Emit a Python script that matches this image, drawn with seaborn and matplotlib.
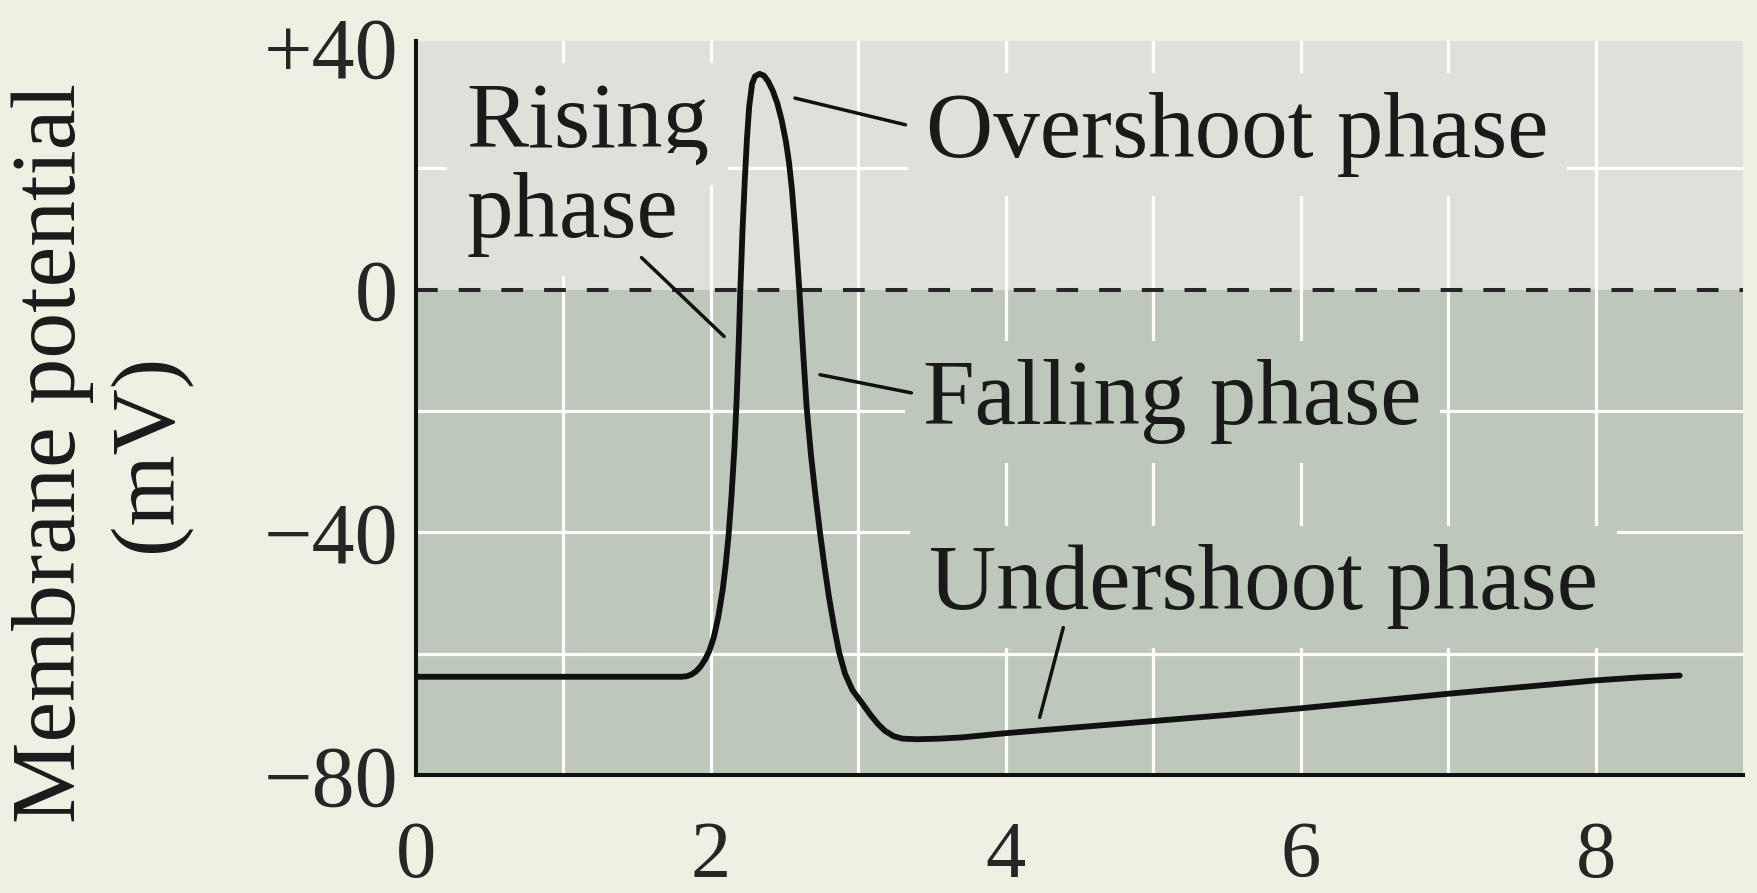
import numpy as np
import pandas as pd
import seaborn as sns
import matplotlib.pyplot as plt

### DATA ###
time_ms = [0.0, 0.5, 1.0, 1.5, 1.80, 1.84, 1.87, 1.90, 1.93, 1.96, 1.99, 2.02, 2.05,
           2.08, 2.10, 2.12, 2.14, 2.16, 2.175, 2.19, 2.20, 2.215, 2.23, 2.245, 2.26,
           2.28, 2.30, 2.33, 2.36, 2.39, 2.42, 2.45, 2.48, 2.51, 2.53, 2.55, 2.575,
           2.60, 2.625, 2.65, 2.68, 2.71, 2.74, 2.77, 2.80, 2.835, 2.87, 2.91, 2.96,
           3.03, 3.08, 3.13, 3.18, 3.24, 3.30, 3.40, 3.55, 3.70, 4.0, 4.5, 5.0, 5.5,
           6.0, 6.5, 7.0, 7.5, 8.0, 8.3, 8.57]
potential_mv = [-63.8, -63.8, -63.8, -63.8, -63.8, -63.7, -63.4, -62.9, -62.1, -61.0,
                -59.5, -57.3, -54.0, -49.5, -45.5, -40.5, -34.0, -26.0, -18.0, -8.0,
                0.0, 10.0, 18.0, 25.0, 30.2, 34.0, 35.2, 35.6, 35.3, 34.3, 32.8, 30.8,
                28.0, 24.3, 21.0, 16.5, 9.0, 0.0, -10.0, -19.5, -27.5, -34.0, -40.0,
                -45.5, -50.5, -55.5, -59.8, -63.3, -66.0, -68.3, -70.0, -71.5, -72.7,
                -73.6, -74.0, -74.1, -74.0, -73.8, -73.1, -72.1, -71.1, -70.1, -69.0,
                -67.8, -66.6, -65.5, -64.4, -63.9, -63.6]

x_ticks = [0, 2, 4, 6, 8]
y_ticks = [40, 0, -40, -80]
y_ticklabels = ['+40', '0', '\u221240', '\u221280']

df = pd.DataFrame({'time': time_ms, 'mv': potential_mv})

### STYLE ###
fig_bg = '#eff0e4'
upper_bg = '#dee1da'
lower_bg = '#bdc7ba'

sns.set_style('white')
plt.rcParams['font.family'] = ['Liberation Serif', 'DejaVu Serif']

fig = plt.figure(figsize=(17.58, 8.93), dpi=100, facecolor=fig_bg)
ax = fig.add_axes([0.2366, 0.1321, 0.9915 - 0.2366, 0.954 - 0.1321])
ax.set_facecolor(lower_bg)
ax.axhspan(0, 41, color=upper_bg, lw=0, zorder=0.1)

# grid every 1 ms / 20 mV (no white line at 0, the dashed line sits there)
ax.set_xticks(x_ticks)
ax.set_xticks([1, 2, 3, 4, 5, 6, 7, 8], minor=True)
ax.set_yticks(y_ticks)
ax.set_yticks([20, -20, -40, -60], minor=True)
ax.yaxis.remove_overlapping_locs = False
ax.xaxis.remove_overlapping_locs = False
ax.set_axisbelow(True)
ax.grid(False)
ax.grid(which='minor', color='white', lw=2.3, zorder=0.5)

ax.axhline(0, color='#262626', lw=2.9, ls=(0, (5.4, 5.2)), zorder=1.5)

sns.lineplot(data=df, x='time', y='mv', color='#111111', lw=4.2, ax=ax, zorder=2)

ax.set_xlim(0, 9.0)
ax.set_ylim(-80, 41)
ax.set_xlabel('')
ax.set_ylabel('')
ax.set_xticklabels([str(t) for t in x_ticks])
ax.set_yticklabels(y_ticklabels)
ax.tick_params(which='both', length=0)
ax.tick_params(axis='x', labelsize=58, pad=33)
ax.tick_params(axis='y', labelsize=62, pad=13)

for s in ['top', 'right']:
    ax.spines[s].set_visible(False)
for s in ['left', 'bottom']:
    ax.spines[s].set_color('#111111')
    ax.spines[s].set_linewidth(2.9)
    ax.spines[s].set_zorder(3)

fig.text(0.0572, 0.4927, 'Membrane potential\n(mV)', rotation=90, ha='center',
         va='center', multialignment='center', fontsize=66, color='#1a1a1a')

# phase labels and their pointer lines
fs = 67
def label(x, y, s, bg):
    ax.text(x, y, s, fontsize=fs, ha='left', va='baseline', color='#1a1a1a', zorder=3,
            bbox=dict(boxstyle='square,pad=0.2', fc=bg, ec='none'))

label(0.34, 23.6, 'Rising', upper_bg)
label(0.34, 8.7, 'phase', upper_bg)
label(3.46, 21.9, 'Overshoot phase', upper_bg)
label(3.44, -22.2, 'Falling phase', lower_bg)
label(3.48, -52.7, 'Undershoot phase', lower_bg)

pointers = [((1.53, 5.3), (2.09, -7.7)),
            ((2.57, 31.6), (3.32, 27.2)),
            ((2.74, -14.0), (3.36, -17.0)),
            ((4.39, -55.7), (4.23, -70.5))]
for p0, p1 in pointers:
    ax.annotate('', xy=p1, xytext=p0,
                arrowprops=dict(arrowstyle='-', color='#111111', lw=2.5,
                                shrinkA=0, shrinkB=0), zorder=4)

fig.savefig('out.png', dpi=100, facecolor=fig_bg)
